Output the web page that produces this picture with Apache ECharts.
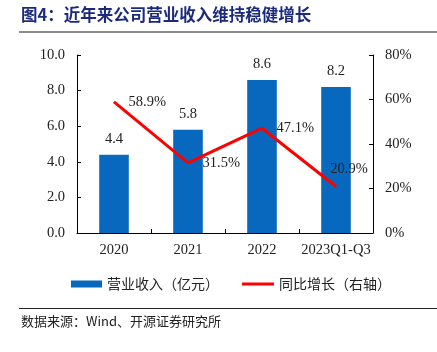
<!DOCTYPE html>
<html><head><meta charset="utf-8">
<script src="https://cdn.jsdelivr.net/npm/echarts@6/dist/echarts.min.js"></script>
<style>html,body{margin:0;padding:0;background:#fff}#c{width:437px;height:352px}</style>
</head><body><div id="c"></div>
<script>
const categories = ['2020', '2021', '2022', '2023Q1-Q3'];
const revenue = [4.4, 5.8, 8.6, 8.2];
const growth = [58.9, 31.5, 47.1, 20.9];
const leftTicks = [0, 2, 4, 6, 8, 10];
const rightTicks = [0, 20, 40, 60, 80];
const titleText = '图4：近年来公司营业收入维持稳健增长';
const sourceText = '数据来源：Wind、开源证券研究所';
const seriesNames = ['营业收入（亿元）', '同比增长（右轴）'];

const serif = '"Liberation Serif","Times New Roman",serif';
const cjk = '"Noto Sans CJK SC",sans-serif';
const numSize = 14.5;
const chart = echarts.init(document.getElementById('c'), null, {renderer: 'canvas'});
chart.setOption({
  animation: false,
  backgroundColor: '#fff',
  graphic: [
    {type: 'text', left: 21, top: 6, style: {text: titleText, font: 'bold 16.5px ' + cjk, fill: '#1c2a7d'}},
    {type: 'rect', shape: {x: 19, y: 31, width: 418, height: 2}, style: {fill: '#8c8c8c'}},
    {type: 'rect', shape: {x: 19, y: 308, width: 418, height: 1}, style: {fill: '#222'}},
    {type: 'text', left: 21, top: 315, style: {text: sourceText, font: '13px ' + cjk, fill: '#222'}}
  ],
  grid: {left: 77, right: 64, top: 55, bottom: 119},
  legend: [
    {left: 66, top: 272, itemWidth: 31, itemHeight: 7, itemGap: 6,
     textStyle: {fontFamily: cjk, fontSize: 14, color: '#222'},
     data: [{name: seriesNames[0], icon: 'rect'}]},
    {left: 237, top: 272, itemWidth: 32, itemHeight: 3, itemGap: 6,
     textStyle: {fontFamily: cjk, fontSize: 14, color: '#222'},
     data: [{name: seriesNames[1], icon: 'rect', itemStyle: {color: '#ff0000'}}]}
  ],
  xAxis: {
    type: 'category', data: categories,
    axisLine: {lineStyle: {color: '#000', width: 1}},
    axisTick: {show: true, inside: true, length: 4, lineStyle: {color: '#000'}},
    axisLabel: {fontFamily: serif, fontSize: numSize, color: '#222', margin: 10, interval: 0}
  },
  yAxis: [
    {type: 'value', min: 0, max: 10, interval: 2,
     axisLine: {show: true, lineStyle: {color: '#000'}},
     axisTick: {show: true, inside: true, length: 4, lineStyle: {color: '#000'}},
     splitLine: {show: false},
     axisLabel: {fontFamily: serif, fontSize: numSize, color: '#222', margin: 12,
       formatter: v => leftTicks.includes(v) ? v.toFixed(1) : ''}},
    {type: 'value', min: 0, max: 80, interval: 20,
     axisLine: {show: true, lineStyle: {color: '#000'}},
     axisTick: {show: true, inside: true, length: 4, lineStyle: {color: '#000'}},
     splitLine: {show: false},
     axisLabel: {fontFamily: serif, fontSize: numSize, color: '#222', margin: 12,
       formatter: v => rightTicks.includes(v) ? v + '%' : ''}}
  ],
  series: [
    {name: seriesNames[0], type: 'bar', data: revenue, barWidth: '40%',
     itemStyle: {color: '#0768bd'},
     label: {show: true, position: 'top', distance: 8, fontFamily: serif, fontSize: numSize, color: '#222',
       formatter: p => p.value.toFixed(1)}},
    {name: seriesNames[1], type: 'line', yAxisIndex: 1, symbol: 'circle', symbolSize: 1, showSymbol: true,
     lineStyle: {color: '#ff0000', width: 3}, itemStyle: {color: '#ff0000'},
     data: growth.map((v, i) => i === growth.length - 1
       ? {value: v, label: {position: 'top', distance: 9, offset: [13, 0]}}
       : {value: v}),
     label: {show: true, position: 'right', distance: 14, fontFamily: serif, fontSize: numSize, color: '#222',
       formatter: p => p.value.toFixed(1) + '%'}}
  ]
});
</script></body></html>
